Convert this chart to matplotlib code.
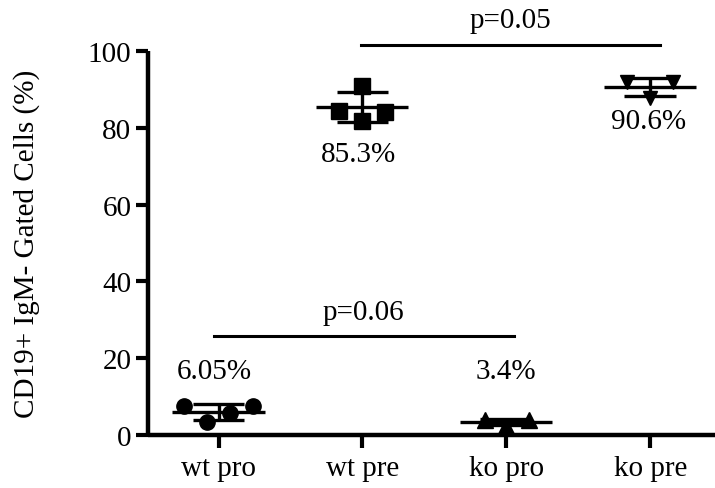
import numpy as np
import matplotlib
matplotlib.use("Agg")
import matplotlib.pyplot as plt

plt.rcParams["font.family"] = ["Liberation Serif", "DejaVu Serif"]

# groups and per-animal percentages
groups = ["wt pro", "wt pre", "ko pro", "ko pre"]
wt_pro = [7.5, 3.4, 5.7, 7.6]
wt_pre = [84.4, 90.9, 81.8, 84.1]
ko_pro = [3.9, 2.4, 3.9]
ko_pre = [92.0, 87.8, 92.0]
mean_labels = ["6.05%", "85.3%", "3.4%", "90.6%"]

# p-values between groups (left index, right index, label)
comparisons = [(0, 2, "p=0.06"), (1, 3, "p=0.05")]

values = [wt_pro, wt_pre, ko_pro, ko_pre]
markers = ["o", "s", "^", "v"]
offsets = [[-0.24, -0.08, 0.08, 0.24],
           [-0.16, 0.0, 0.0, 0.16],
           [-0.15, 0.0, 0.16],
           [-0.16, 0.0, 0.16]]
msizes = [11, 11, 11, 10]

fs = 21

fig = plt.figure(figsize=(7.15, 4.89), dpi=100)
ax = fig.add_axes([0.207, 0.108, 0.793, 0.786])

for i, (vals, m, off, ms) in enumerate(zip(values, markers, offsets, msizes)):
    vals = np.array(vals)
    ax.plot(i + np.array(off), vals, linestyle="none", marker=m, markersize=ms,
            color="black", clip_on=False, zorder=3)
    mu = vals.mean()
    sd = vals.std(ddof=1)
    ax.hlines(mu, i - 0.32, i + 0.32, color="black", lw=2.4, zorder=4)
    ax.vlines(i, mu - sd, mu + sd, color="black", lw=2.4, zorder=4)
    ax.hlines([mu - sd, mu + sd], i - 0.18, i + 0.18, color="black", lw=2.4, zorder=4)

# mean labels
label_y = [16.7, 73.2, 16.7, 81.8]
label_dx = [-0.03, -0.03, 0.0, -0.01]
for i, (txt, y, dx) in enumerate(zip(mean_labels, label_y, label_dx)):
    ax.text(i + dx, y, txt, ha="center", va="center", fontsize=fs, clip_on=False)

# significance bars
bar_y = {"p=0.06": 25.8, "p=0.05": 101.6}
bar_ext = {"p=0.06": (-0.03, 2.05), "p=0.05": (0.99, 3.07)}
for a, b, txt in comparisons:
    x0, x1 = bar_ext[txt]
    ax.plot([x0, x1], [bar_y[txt]] * 2, color="black", lw=2.2, clip_on=False)
    ax.text((x0 + x1) / 2, bar_y[txt] + 6.3, txt, ha="center", va="center",
            fontsize=fs, clip_on=False)

ax.set_xlim(-0.49, 3.45)
ax.set_ylim(0, 100)
ax.set_xticks(range(len(groups)))
ax.set_xticklabels(groups)
ax.set_yticks([0, 20, 40, 60, 80, 100])
ax.tick_params(axis="both", labelsize=fs, width=3, length=9, pad=3, color="black")
ax.tick_params(axis="x", pad=5)
ax.set_ylabel("CD19+ IgM- Gated Cells (%)", fontsize=fs, labelpad=34)

for side in ["top", "right"]:
    ax.spines[side].set_visible(False)
for side in ["left", "bottom"]:
    ax.spines[side].set_linewidth(3.2)
    ax.spines[side].set_capstyle("butt")

fig.savefig("out.png", dpi=100)
